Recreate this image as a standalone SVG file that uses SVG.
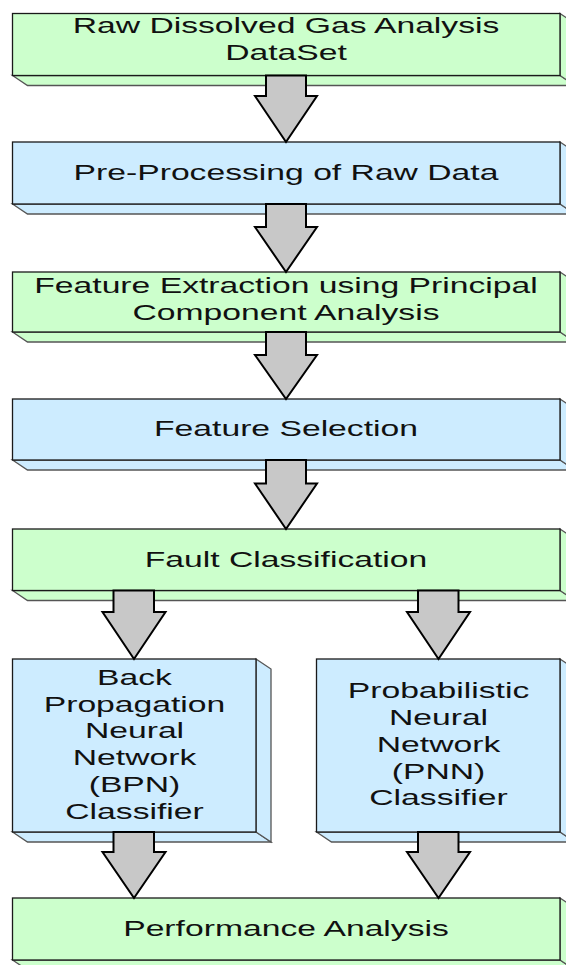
<svg xmlns="http://www.w3.org/2000/svg" width="566" height="965" viewBox="0 0 566 965">
<style>
.g{fill:#ccffcc}
.b{fill:#cdecff}
.front{stroke:#1a1a1a;stroke-width:1.3}
.depth{stroke:#555;stroke-width:1.3;stroke-linejoin:miter}
.t{font-family:"Liberation Sans",Arial,sans-serif;font-size:23px;fill:#111;text-anchor:middle}
.arr{fill:#c8c8c8;stroke:#000;stroke-width:2;stroke-linejoin:miter}
</style>
<rect width="566" height="965" fill="#fff"/>
<g id="n1">
<polygon class="g depth" points="12.5,75.5 560,75.5 575,85.5 27.5,85.5"/>
<polygon class="g depth" points="560,13.5 575,23.5 575,85.5 560,75.5"/>
<rect class="g front" x="12.5" y="13.5" width="547.5" height="62"/>
<text class="t" transform="translate(286 0) scale(1.465 1)" y="33.5">Raw Dissolved Gas Analysis</text>
<text class="t" transform="translate(286 0) scale(1.465 1)" y="60.5">DataSet</text>
</g>
<g id="n2">
<polygon class="b depth" points="12.5,204 560,204 575,214 27.5,214"/>
<polygon class="b depth" points="560,142 575,152 575,214 560,204"/>
<rect class="b front" x="12.5" y="142" width="547.5" height="62"/>
<text class="t" transform="translate(286 0) scale(1.465 1)" y="180.5">Pre-Processing of Raw Data</text>
</g>
<g id="n3">
<polygon class="g depth" points="12.5,332 560,332 575,342 27.5,342"/>
<polygon class="g depth" points="560,272 575,282 575,342 560,332"/>
<rect class="g front" x="12.5" y="272" width="547.5" height="60"/>
<text class="t" transform="translate(286 0) scale(1.465 1)" y="293.5">Feature Extraction using Principal</text>
<text class="t" transform="translate(286 0) scale(1.465 1)" y="320.5">Component Analysis</text>
</g>
<g id="n4">
<polygon class="b depth" points="12.5,460 560,460 575,470 27.5,470"/>
<polygon class="b depth" points="560,399 575,409 575,470 560,460"/>
<rect class="b front" x="12.5" y="399" width="547.5" height="61"/>
<text class="t" transform="translate(286 0) scale(1.465 1)" y="436.5">Feature Selection</text>
</g>
<g id="n5">
<polygon class="g depth" points="12.5,590.5 560,590.5 575,600.5 27.5,600.5"/>
<polygon class="g depth" points="560,529 575,539 575,600.5 560,590.5"/>
<rect class="g front" x="12.5" y="529" width="547.5" height="61.5"/>
<text class="t" transform="translate(286 0) scale(1.465 1)" y="567">Fault Classification</text>
</g>
<g id="n6">
<polygon class="b depth" points="12.5,832 256,832 271,842 27.5,842"/>
<polygon class="b depth" points="256,659 271,669 271,842 256,832"/>
<rect class="b front" x="12.5" y="659" width="243.5" height="173"/>
<text class="t" transform="translate(134.5 0) scale(1.465 1)" y="685">Back</text>
<text class="t" transform="translate(134.5 0) scale(1.465 1)" y="711.7">Propagation</text>
<text class="t" transform="translate(134.5 0) scale(1.465 1)" y="738.4">Neural</text>
<text class="t" transform="translate(134.5 0) scale(1.465 1)" y="765.1">Network</text>
<text class="t" transform="translate(134.5 0) scale(1.465 1)" y="791.8">(BPN)</text>
<text class="t" transform="translate(134.5 0) scale(1.465 1)" y="818.5">Classifier</text>
</g>
<g id="n7">
<polygon class="b depth" points="316.5,832 560,832 575,842 331.5,842"/>
<polygon class="b depth" points="560,659 575,669 575,842 560,832"/>
<rect class="b front" x="316.5" y="659" width="243.5" height="173"/>
<text class="t" transform="translate(438.5 0) scale(1.465 1)" y="698.5">Probabilistic</text>
<text class="t" transform="translate(438.5 0) scale(1.465 1)" y="725.2">Neural</text>
<text class="t" transform="translate(438.5 0) scale(1.465 1)" y="751.9">Network</text>
<text class="t" transform="translate(438.5 0) scale(1.465 1)" y="778.6">(PNN)</text>
<text class="t" transform="translate(438.5 0) scale(1.465 1)" y="805.3">Classifier</text>
</g>
<g id="n8">
<polygon class="g depth" points="12.5,960 560,960 575,970 27.5,970"/>
<polygon class="g depth" points="560,898 575,908 575,970 560,960"/>
<rect class="g front" x="12.5" y="898" width="547.5" height="62"/>
<text class="t" transform="translate(286 0) scale(1.465 1)" y="936">Performance Analysis</text>
</g>
<g id="connectors">
<polygon class="arr" points="266,75.5 306,75.5 306,96 317,96 286,142 255,96 266,96"/>
<polygon class="arr" points="266,204 306,204 306,227 317,227 286,272 255,227 266,227"/>
<polygon class="arr" points="266,332 306,332 306,355 317,355 286,399 255,355 266,355"/>
<polygon class="arr" points="266,460 306,460 306,483.5 317,483.5 286,529 255,483.5 266,483.5"/>
<polygon class="arr" points="113.5,590.5 154,590.5 154,612 165.5,612 134,659 102.5,612 113.5,612"/>
<polygon class="arr" points="418,590.5 458.5,590.5 458.5,612 470,612 438.5,659 407,612 418,612"/>
<polygon class="arr" points="113.5,832 154,832 154,852 165.5,852 134,898 102.5,852 113.5,852"/>
<polygon class="arr" points="418,832 458.5,832 458.5,852 470,852 438.5,898 407,852 418,852"/>
</g>
</svg>
